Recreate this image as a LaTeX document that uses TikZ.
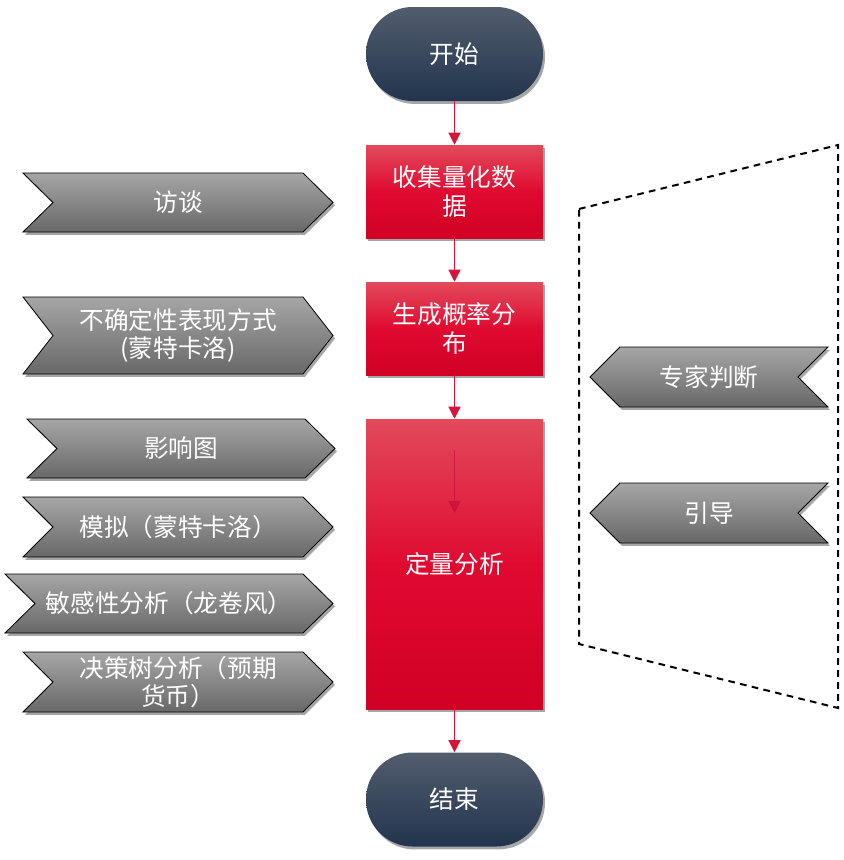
\documentclass[tikz,border=0pt]{standalone}
\usepackage{fontspec}
\setmainfont{Noto Sans CJK SC}
\usetikzlibrary{shadows,arrows.meta}
\definecolor{navyTop}{HTML}{525D6D}
\definecolor{navyBot}{HTML}{22344E}
\definecolor{redTop}{HTML}{E24A5B}
\definecolor{redMid}{HTML}{E00A31}
\definecolor{redBot}{HTML}{D10025}
\definecolor{grayTop}{HTML}{A6A6A6}
\definecolor{grayBot}{HTML}{686868}
\definecolor{arrowRed}{HTML}{D4163C}
\definecolor{innerRed}{HTML}{C8103A}
\tikzset{
  x=0.75pt, y=-0.75pt,
  txt/.style={font=\fontsize{18.5}{21.5}\selectfont},
  shad/.style={drop shadow={shadow xshift=1.5pt, shadow yshift=-2.2pt, opacity=0.35, fill=black}},
  stadium/.style={txt, shad, rectangle, rounded corners=35pt, minimum width=132.75pt,
    minimum height=70.5pt, top color=navyTop, bottom color=navyBot, text=white, inner sep=0pt},
  redbox/.style={txt, shad, rectangle, minimum width=132.75pt, top color=redTop,
    bottom color=redBot, middle color=redMid, text=white, align=center, inner sep=0pt},
  chev/.style={shad, draw=black, line width=0.6pt, top color=grayTop, bottom color=grayBot},
  chevtext/.style={txt, text=white, align=center, inner sep=0pt},
  flow/.style={draw=arrowRed, line width=0.9pt, -{Triangle[width=9pt,length=9pt]}},
  frameline/.style={draw=black, line width=1.5pt, dash pattern=on 5pt off 4pt},
}
\newcommand\rightchev[6]{%
  \path[chev] (#2,#4) -- ({#3-30},#4) -- (#3,{(#4+#5)/2}) -- ({#3-30},#5) -- (#2,#5)
    -- ({#2+30},{(#4+#5)/2}) -- cycle;
  \node[chevtext] (#1) at ({(#2+#3)/2},{(#4+#5)/2}) {#6};
}
\newcommand\leftchev[6]{%
  \path[chev] ({#2+30},#4) -- (#3,#4) -- ({#3-30},{(#4+#5)/2}) -- (#3,#5) -- ({#2+30},#5)
    -- (#2,{(#4+#5)/2}) -- cycle;
  \node[chevtext] (#1) at ({(#2+#3)/2},{(#4+#5)/2}) {#6};
}
\begin{document}
\begin{tikzpicture}
\useasboundingbox (0,0) rectangle (843,860);

% dashed frame
\coordinate (f1) at (579,209);
\coordinate (f2) at (838,145);
\coordinate (f3) at (838,708);
\coordinate (f4) at (579,644);
\draw[frameline] (f1) -- (f2) -- (f3) -- (f4) -- cycle;

% main flow
\node[stadium] (start) at (454.5,54) {开始};
\node[redbox, minimum height=69.75pt] (collect) at (454.5,191.5) {收集量化数\\据};
\node[redbox, minimum height=69.75pt] (gen) at (454.5,328.5) {生成概率分\\布};
\node[redbox, minimum height=217.5pt] (anal) at (454.5,564) {定量分析};
\node[stadium] (end) at (454.5,799.5) {结束};

\draw[flow] (start.south) -- (collect.north);
\draw[flow] (collect.south) -- (gen.north);
\draw[flow] (gen.south) -- (anal.north);
\draw[flow] (anal.south) -- (end.north);
\coordinate (ia1) at (454.5,450);
\coordinate (ia2) at (454.5,513);
\draw[draw=innerRed, line width=0.8pt, -{Triangle[width=9pt,length=9pt]}, opacity=0.7] (ia1) -- (ia2);

% left chevrons
\rightchev{c1}{23}{333}{173}{232}{访谈}
\rightchev{c2}{23}{333}{297}{374}{不确定性表现方式\\(蒙特卡洛)}
\rightchev{c3}{27}{335}{419}{478}{影响图}
\rightchev{c4}{23}{333}{497}{557}{模拟（蒙特卡洛）}
\rightchev{c5}{5}{333}{574}{633}{敏感性分析（龙卷风）}
\rightchev{c6}{23}{333}{652}{712}{决策树分析（预期\\货币）}

% right chevrons
\leftchev{r1}{590}{828}{347}{407}{专家判断}
\leftchev{r2}{590}{828}{483}{543}{引导}
\end{tikzpicture}
\end{document}
